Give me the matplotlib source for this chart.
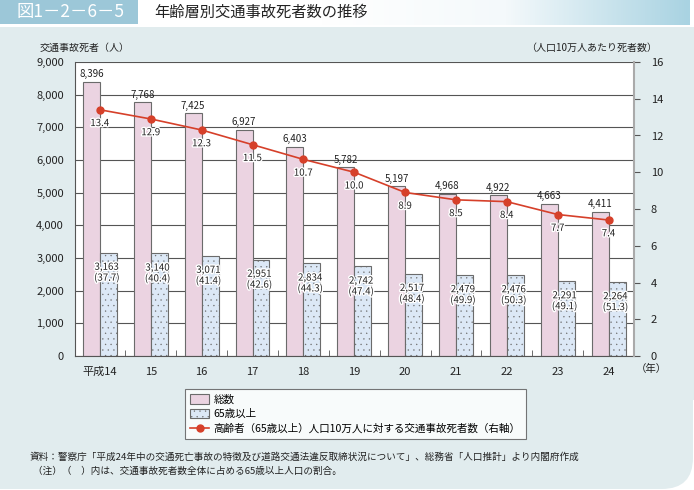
import matplotlib
matplotlib.use('Agg')
from matplotlib import pyplot as plt
from matplotlib.patches import Rectangle, FancyBboxPatch
import matplotlib.patheffects as pe
import numpy as np

plt.rcParams['font.family'] = ['Noto Sans CJK JP', 'DejaVu Sans']
plt.rcParams['hatch.color'] = '#a9c3e8'
plt.rcParams['hatch.linewidth'] = 0.2

years = ['平成14', '15', '16', '17', '18', '19', '20', '21', '22', '23', '24']
total = [8396, 7768, 7425, 6927, 6403, 5782, 5197, 4968, 4922, 4663, 4411]
elderly = [3163, 3140, 3071, 2951, 2834, 2742, 2517, 2479, 2476, 2291, 2264]
share = [37.7, 40.4, 41.4, 42.6, 44.3, 47.4, 48.4, 49.9, 50.3, 49.1, 51.3]
rate = [13.4, 12.9, 12.3, 11.5, 10.7, 10.0, 8.9, 8.5, 8.4, 7.7, 7.4]

fig = plt.figure(figsize=(6.94, 4.90), dpi=100)
fig.patch.set_facecolor('white')

W, H = 694, 490
def fx(px):
    return px / W
def fy(py):
    return 1 - py / H

# background panel, rounded bottom-right corner only
panel = FancyBboxPatch((fx(-40), fy(489)), fx(733), fy(27) - fy(489),
                       boxstyle='round,pad=0,rounding_size=0.045',
                       transform=fig.transFigure, facecolor='#e1ecee',
                       edgecolor='none', zorder=-10, mutation_aspect=W / H)
fig.patches.append(panel)
fig.patches.append(Rectangle((0, fy(400)), 1, fy(27) - fy(400),
                             transform=fig.transFigure, facecolor='#e1ecee',
                             edgecolor='none', zorder=-9))

# title bar
grad = np.linspace(0, 1, 256).reshape(1, -1)
gax = fig.add_axes([fx(138), fy(25), fx(552), fy(0) - fy(25)], zorder=-5)
gax.imshow(grad, aspect='auto', cmap=matplotlib.colors.LinearSegmentedColormap.from_list(
    'g', ['#ffffff', '#ffffff', '#f4f9fb', '#a9d3e2']), extent=[0, 1, 0, 1])
gax.axis('off')
fig.patches.append(Rectangle((0, fy(24)), fx(138), fy(0) - fy(24),
                             transform=fig.transFigure, facecolor='#9cc7d8',
                             edgecolor='none', zorder=-4))
fig.text(fx(17), fy(12), '図1－2－6－5', color='white', fontsize=12.5,
         va='center', ha='left')
fig.text(fx(154), fy(12), '年齢層別交通事故死者数の推移', color='#222222',
         fontsize=11, va='center', ha='left')

ax = fig.add_axes([fx(75), fy(356), fx(634) - fx(75), fy(62) - fy(356)])
ax.set_facecolor('white')
x = np.arange(len(years))
w = 0.333
halo = [pe.withStroke(linewidth=2, foreground='white')]

ax.bar(x - w / 2, total, w, color='#ebd3e1', edgecolor='#6b6b6b',
       linewidth=0.8, zorder=2)
ax.bar(x + w / 2, elderly, w, color='#dce8f6', edgecolor='#6b6b6b',
       linewidth=0.8, hatch='...', zorder=2)

for i in range(len(years)):
    ax.text(x[i] - w / 2, total[i] + 80, f'{total[i]:,}', ha='center',
            va='bottom', fontsize=7, color='#222222', zorder=5)
    ax.text(x[i] + w / 2 - 0.03, elderly[i] - 280,
            f'{elderly[i]:,}\n({share[i]})', ha='center', va='top',
            fontsize=7, color='#222222', linespacing=1.0, zorder=5,
            path_effects=halo)

ax.set_ylim(0, 9000)
ax.set_xlim(-0.49, 10.47)
ax.set_yticks(range(0, 9001, 1000))
ax.set_yticklabels([f'{v:,}' for v in range(0, 9001, 1000)], fontsize=8)
ax.grid(axis='y', color='#555555', linewidth=0.8, zorder=1)
ax.set_axisbelow(True)
ax.tick_params(axis='y', length=0, pad=8, labelcolor='#222222')
ax.set_xticks(x + 0.5, minor=True)
ax.set_xticks(x)
ax.set_xticklabels(years, fontsize=8, color='#222222')
ax.tick_params(axis='x', which='major', length=0, pad=8)
ax.tick_params(axis='x', which='minor', direction='in', length=4,
               color='#555555')
for s in ['top', 'right']:
    ax.spines[s].set_visible(False)
ax.spines['left'].set_color('#555555')
ax.spines['bottom'].set_color('#555555')

ax2 = ax.twinx()
ax2.plot(x, rate, color='#d6402a', marker='o', markersize=5, linewidth=1.2,
         zorder=4)
for i in range(len(years)):
    ax2.text(x[i], rate[i] - 0.45, f'{rate[i]}', ha='center', va='top',
             fontsize=7, color='#222222', zorder=5, path_effects=halo)
ax2.set_ylim(0, 16)
ax2.set_yticks(range(0, 17, 2))
ax2.tick_params(axis='y', length=4, pad=8, labelsize=8, color='#555555',
                labelcolor='#222222')
for s in ['top', 'left', 'bottom']:
    ax2.spines[s].set_visible(False)
ax2.spines['right'].set_color('#aaaaaa')
ax2.spines['right'].set_linewidth(1.5)

fig.text(fx(40), fy(48), '交通事故死者（人）', fontsize=7.2, va='center',
         color='#222222')
fig.text(fx(657), fy(48), '（人口10万人あたり死者数）', fontsize=7.2,
         va='center', ha='right', color='#222222')
fig.text(fx(636), fy(369), '（年）', fontsize=7.5, va='center', color='#222222')

# legend
h1 = Rectangle((0, 0), 1, 1, facecolor='#ebd3e1', edgecolor='#6b6b6b', linewidth=0.8)
h2 = Rectangle((0, 0), 1, 1, facecolor='#dce8f6', edgecolor='#6b6b6b', linewidth=0.8, hatch='...')
h3, = ax.plot([], [], color='#d6402a', marker='o', markersize=5, linewidth=1.2)
leg = fig.legend([h1, h2, h3],
                 ['総数', '65歳以上', '高齢者（65歳以上）人口10万人に対する交通事故死者数（右軸）'],
                 loc='upper left', bbox_to_anchor=(fx(185), fy(389)),
                 borderaxespad=0, fontsize=7.6, frameon=True, fancybox=False,
                 handlelength=1.8, handleheight=1.0, borderpad=0.5,
                 labelspacing=0.4, handletextpad=0.4)
leg.get_frame().set_edgecolor('#555555')
leg.get_frame().set_linewidth(0.8)

fig.text(fx(30), fy(457),
         '資料：警察庁「平成24年中の交通死亡事故の特徴及び道路交通法違反取締状況について」、総務省「人口推計」より内閣府作成',
         fontsize=6.9, va='center', color='#222222')
fig.text(fx(33), fy(471),
         '（注）（　）内は、交通事故死者数全体に占める65歳以上人口の割合。',
         fontsize=6.9, va='center', color='#222222')

fig.savefig('out.png', dpi=100)
